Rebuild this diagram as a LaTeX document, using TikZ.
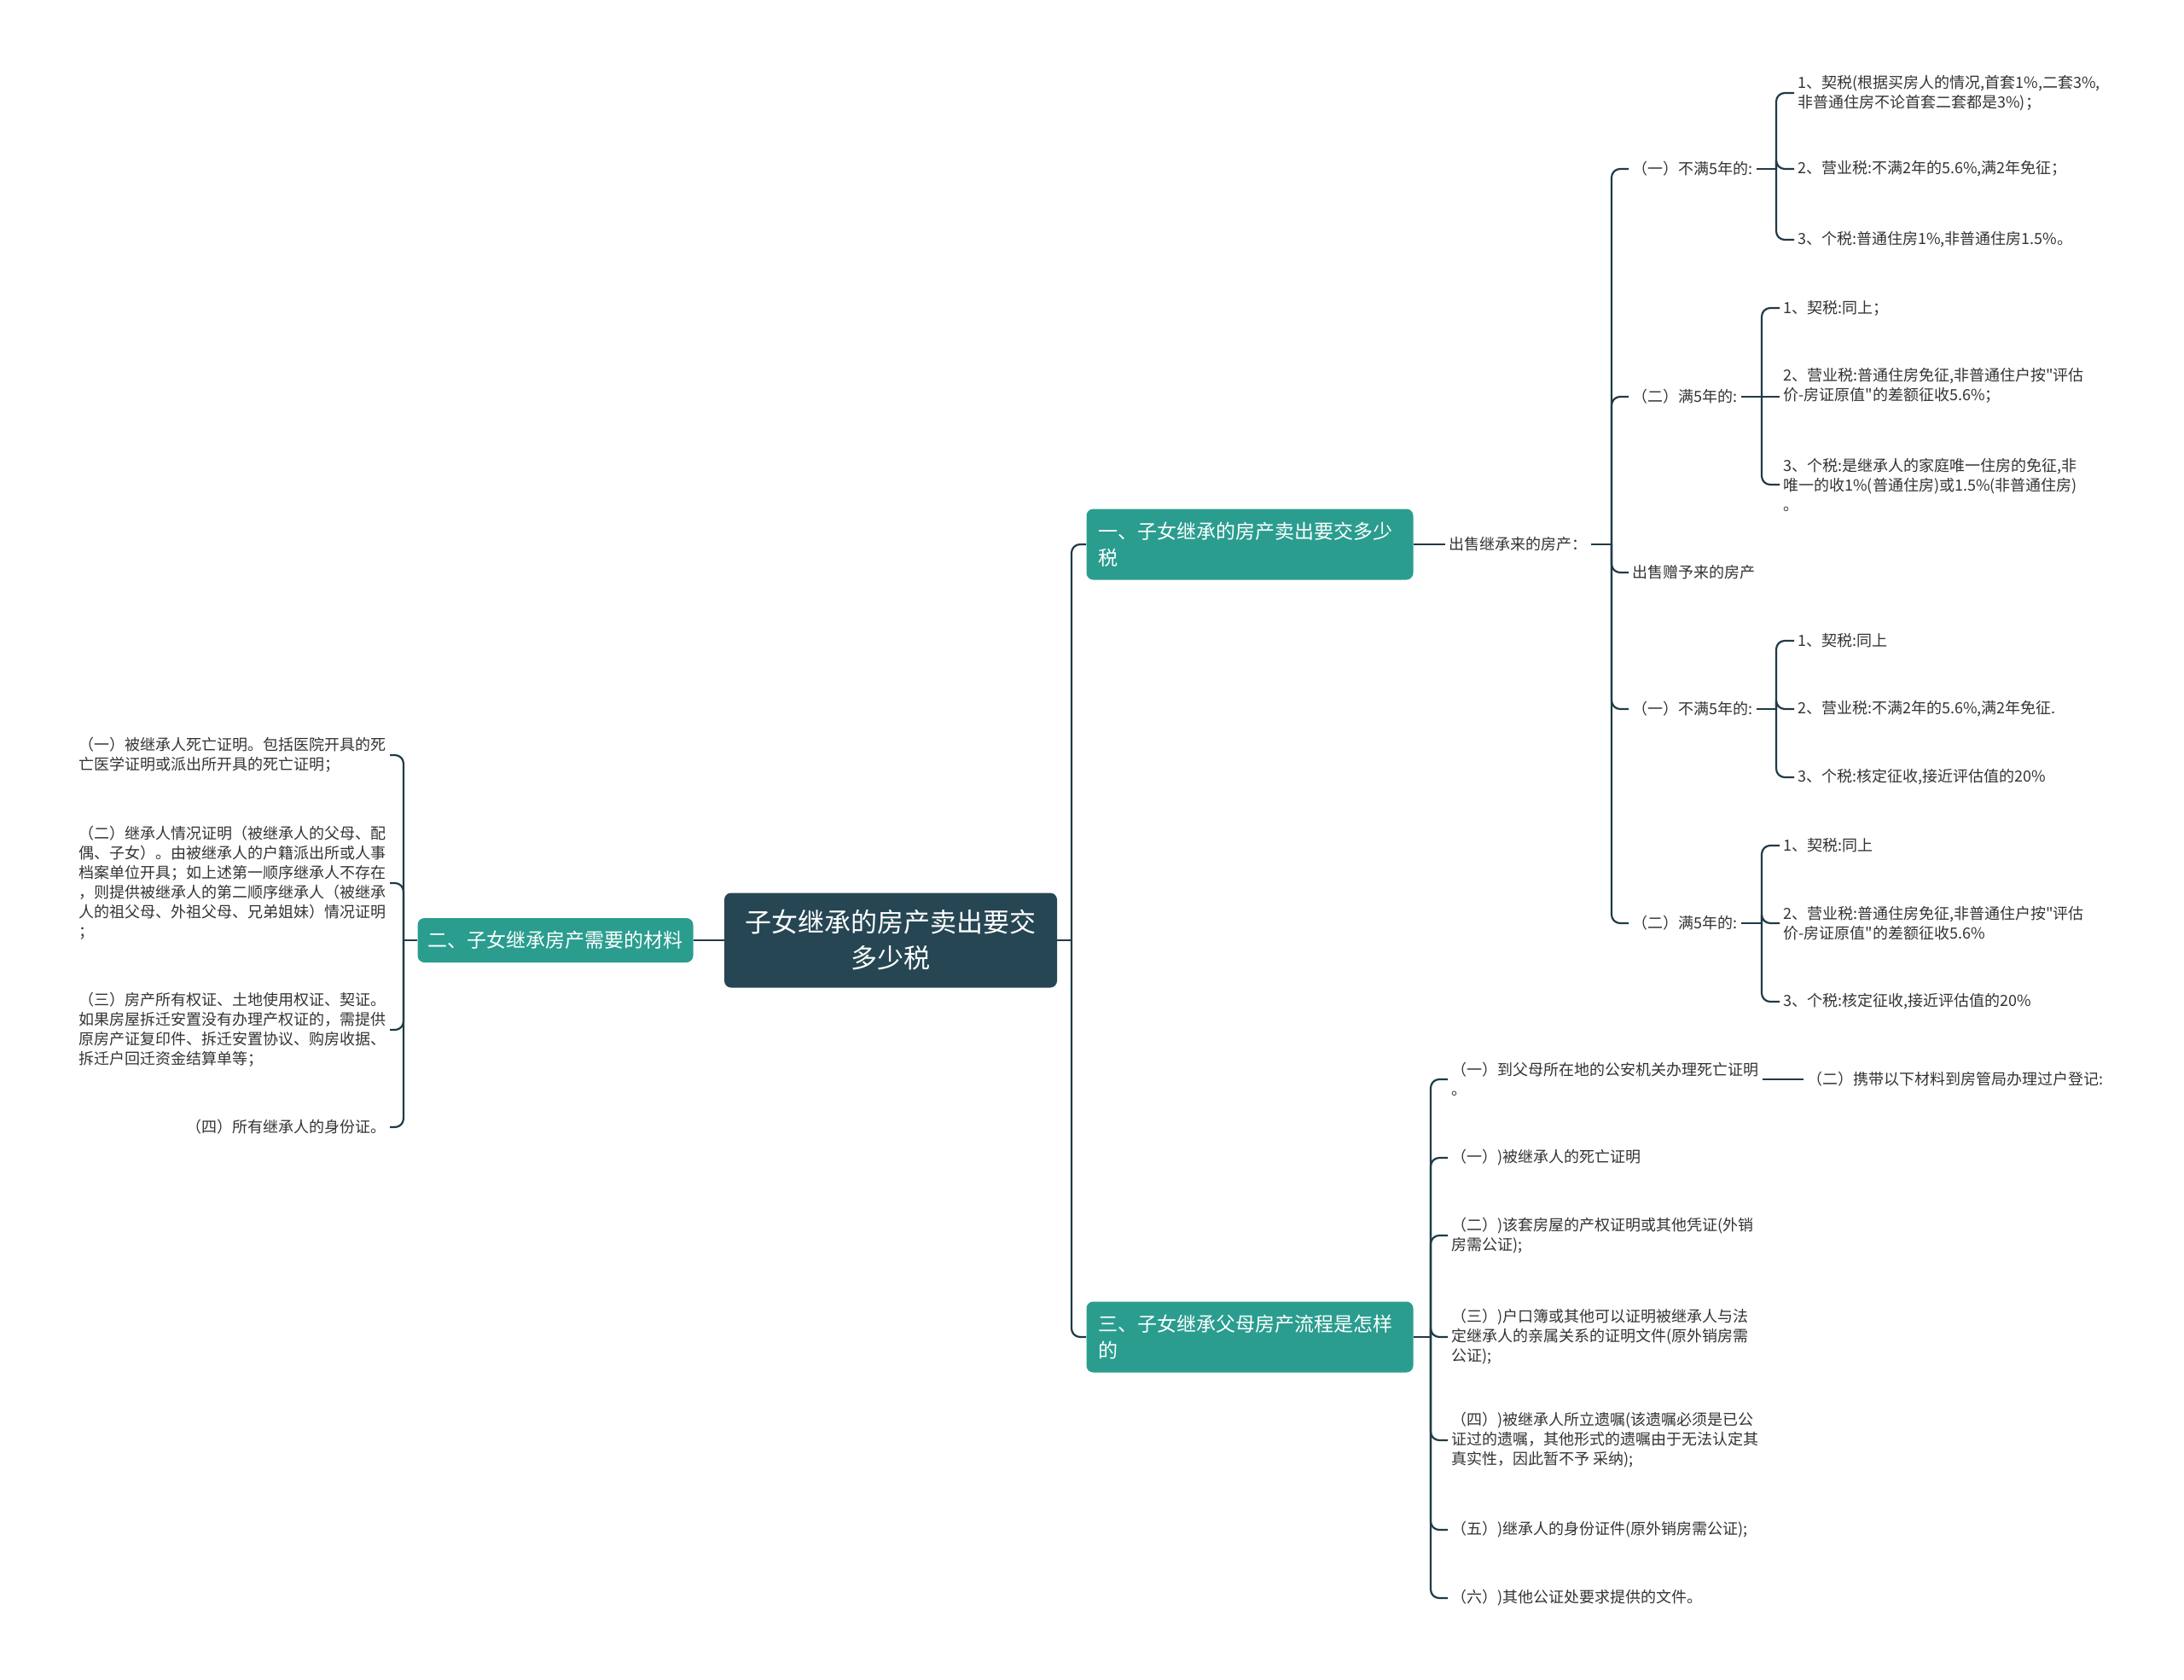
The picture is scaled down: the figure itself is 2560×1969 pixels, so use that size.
\documentclass[tikz,border=0pt]{standalone}
\usepackage{fontspec}
\newfontfamily\cjk{Noto Sans CJK SC}
\definecolor{rootc}{HTML}{264653}
\definecolor{branchc}{HTML}{2A9D8F}
\definecolor{linkc}{HTML}{1F3B47}
\definecolor{leafc}{HTML}{333333}
\tikzset{
  rootbox/.style={fill=rootc, text=white, rounded corners=4pt, align=center,
    font=\cjk\fontsize{15.5}{21}\selectfont, minimum width=195pt, minimum height=55.5pt},
  branchbox/.style={fill=branchc, text=white, rounded corners=4pt, align=left,
    font=\cjk\fontsize{11.5}{15.5}\selectfont},
  leaf/.style={text=leafc, align=left, font=\cjk\fontsize{9}{11.5}\selectfont,
    inner xsep=2pt, inner ysep=1pt},
  link/.style={draw=linkc, line width=1.1pt, rounded corners=5pt}
}
\begin{document}
\begin{tikzpicture}[x=0.5pt,y=-0.5pt]
\useasboundingbox (0,0) rectangle (2560,1969);

\node[rootbox] (root) at (1044,1102) {子女继承的房产卖出要交\\多少税};
\node[branchbox, minimum width=161.5pt, minimum height=26pt] (b2) at (651,1102) {二、子女继承房产需要的材料};
\node[branchbox, text width=178pt, inner xsep=6.75pt, minimum height=41.5pt] (b1) at (1465,638) {一、子女继承的房产卖出要交多少\\税};
\node[branchbox, text width=178pt, inner xsep=6.75pt, minimum height=41.5pt] (b3) at (1465,1567) {三、子女继承父母房产流程是怎样\\的};

\node[leaf, anchor=east] (f1) at (457,885) {（一）被继承人死亡证明。包括医院开具的死\\亡医学证明或派出所开具的死亡证明；};
\node[leaf, anchor=east] (f2) at (457,1035) {（二）继承人情况证明（被继承人的父母、配\\偶、子女）。由被继承人的户籍派出所或人事\\档案单位开具；如上述第一顺序继承人不存在\\，则提供被继承人的第二顺序继承人（被继承\\人的祖父母、外祖父母、兄弟姐妹）情况证明\\；};
\node[leaf, anchor=east] (f3) at (457,1207) {（三）房产所有权证、土地使用权证、契证。\\如果房屋拆迁安置没有办理产权证的，需提供\\原房产证复印件、拆迁安置协议、购房收据、\\拆迁户回迁资金结算单等；};
\node[leaf, anchor=east] (f4) at (457,1321) {（四）所有继承人的身份证。};

\node[leaf, anchor=west] (sell1) at (1694,638) {出售继承来的房产：};
\node[leaf, anchor=west] (lt5a) at (1909,198) {（一）不满5年的:};
\node[leaf, anchor=west] (ge5a) at (1909,465) {（二）满5年的:};
\node[leaf, anchor=west] (gift) at (1909,671) {出售赠予来的房产};
\node[leaf, anchor=west] (lt5b) at (1909,831) {（一）不满5年的:};
\node[leaf, anchor=west] (ge5b) at (1909,1082) {（二）满5年的:};

\node[leaf, anchor=west] (a1) at (2103,109) {1、契税(根据买房人的情况,首套1\%,二套3\%,\\非普通住房不论首套二套都是3\%)；};
\node[leaf, anchor=west] (a2) at (2103,198) {2、营业税:不满2年的5.6\%,满2年免征；};
\node[leaf, anchor=west] (a3) at (2103,281) {3、个税:普通住房1\%,非普通住房1.5\%。};

\node[leaf, anchor=west] (g1) at (2086,361) {1、契税:同上；};
\node[leaf, anchor=west] (g2) at (2086,452) {2、营业税:普通住房免征,非普通住户按"评估\\价-房证原值"的差额征收5.6\%；};
\node[leaf, anchor=west] (g3) at (2086,568) {3、个税:是继承人的家庭唯一住房的免征,非\\唯一的收1\%(普通住房)或1.5\%(非普通住房)\\。};

\node[leaf, anchor=west] (c1) at (2103,751) {1、契税:同上};
\node[leaf, anchor=west] (c2) at (2103,831) {2、营业税:不满2年的5.6\%,满2年免征.};
\node[leaf, anchor=west] (c3) at (2103,911) {3、个税:核定征收,接近评估值的20\%};

\node[leaf, anchor=west] (d1) at (2086,991) {1、契税:同上};
\node[leaf, anchor=west] (d2) at (2086,1082) {2、营业税:普通住房免征,非普通住户按"评估\\价-房证原值"的差额征收5.6\%};
\node[leaf, anchor=west] (d3) at (2086,1174) {3、个税:核定征收,接近评估值的20\%};

\node[leaf, anchor=west] (e1) at (1697,1265) {（一）到父母所在地的公安机关办理死亡证明\\。};
\node[leaf, anchor=west] (e1b) at (2114,1265) {（二）携带以下材料到房管局办理过户登记:};
\node[leaf, anchor=west] (e2) at (1697,1357) {（一）)被继承人的死亡证明};
\node[leaf, anchor=west] (e3) at (1697,1448) {（二）)该套房屋的产权证明或其他凭证(外销\\房需公证);};
\node[leaf, anchor=west] (e4) at (1697,1567) {（三）)户口簿或其他可以证明被继承人与法\\定继承人的亲属关系的证明文件(原外销房需\\公证);};
\node[leaf, anchor=west] (e5) at (1697,1688) {（四）)被继承人所立遗嘱(该遗嘱必须是已公\\证过的遗嘱，其他形式的遗嘱由于无法认定其\\真实性，因此暂不予 采纳);};
\node[leaf, anchor=west] (e6) at (1697,1793) {（五）)继承人的身份证件(原外销房需公证);};
\node[leaf, anchor=west] (e7) at (1697,1873) {（六）)其他公证处要求提供的文件。};

\coordinate (s0) at (1256,1102);
\coordinate (sl) at (473,1102);
\coordinate (s1) at (1889,638);
\coordinate (s3) at (1677,1567);
\coordinate (sa) at (2082,198);
\coordinate (sg) at (2065,465);
\coordinate (sc) at (2082,831);
\coordinate (sd) at (2065,1082);

\draw[link] (root.west) -- (b2.east);
\draw[link] (root.east) -- (s0);
\draw[link] (s0) |- (b1.west);
\draw[link] (s0) |- (b3.west);

\draw[link] (b2.west) -- (sl);
\foreach \c in {f1,f2,f3,f4} \draw[link] (sl) |- (\c.east);

\draw[link] (b1.east) -- (sell1.west);
\draw[link] (sell1.east) -- (s1);
\foreach \c in {lt5a,ge5a,gift,lt5b,ge5b} \draw[link] (s1) |- (\c.west);

\draw[link] (lt5a.east) -- (sa);
\foreach \c in {a1,a2,a3} \draw[link] (sa) |- (\c.west);
\draw[link] (ge5a.east) -- (sg) -- (sg -| g2.west);
\foreach \c in {g1,g3} \draw[link] (sg) |- (\c.west);
\draw[link] (lt5b.east) -- (sc);
\foreach \c in {c1,c2,c3} \draw[link] (sc) |- (\c.west);
\draw[link] (ge5b.east) -- (sd);
\foreach \c in {d1,d2,d3} \draw[link] (sd) |- (\c.west);

\draw[link] (b3.east) -- (s3);
\foreach \c in {e1,e2,e3,e4,e5,e6,e7} \draw[link] (s3) |- (\c.west);
\draw[link] (e1.east) -- (e1b.west);
\end{tikzpicture}
\end{document}
